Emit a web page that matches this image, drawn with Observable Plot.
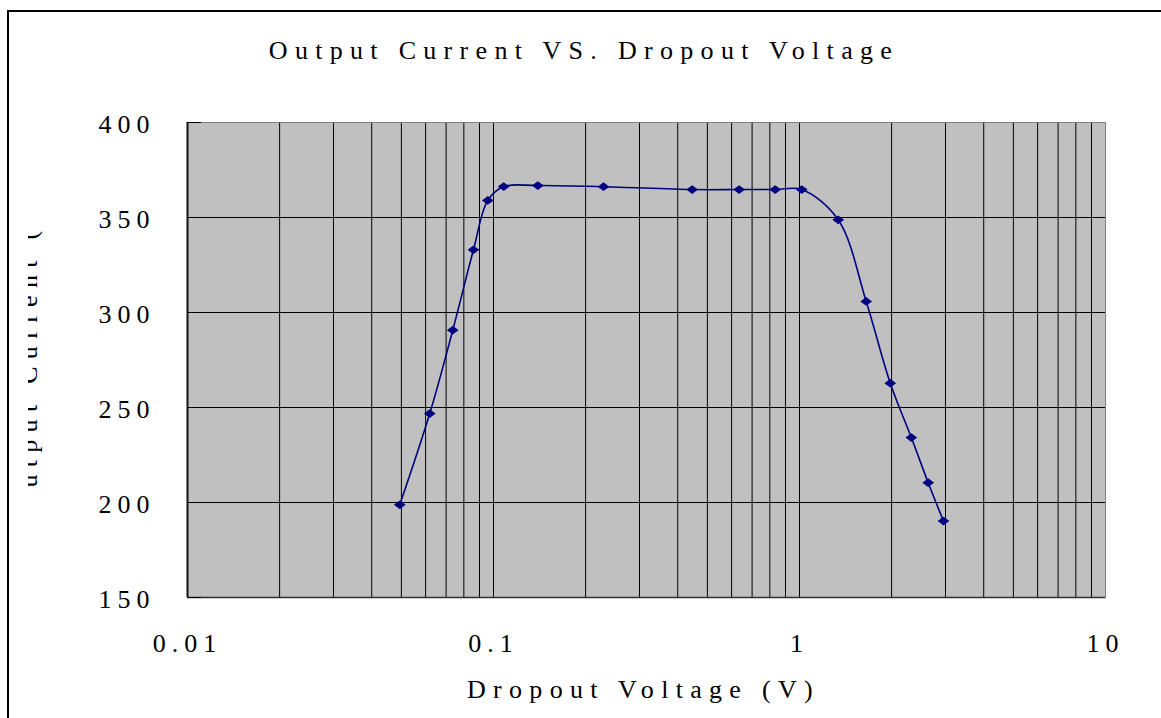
<!DOCTYPE html>
<html><head><meta charset="utf-8">
<script src="https://cdn.jsdelivr.net/npm/d3@7"></script>
<script src="https://cdn.jsdelivr.net/npm/@observablehq/plot@0.6"></script>
<style>
html,body{margin:0;padding:0;background:#fff;}
#page{position:relative;width:1161px;height:718px;overflow:hidden;font-family:"Liberation Serif",serif;color:#000;}
#frame{position:absolute;left:7px;top:10px;width:1300px;height:900px;border-left:2px solid #000;border-top:2px solid #000;}
#title{position:absolute;left:0;top:38px;width:1161px;text-align:center;font-size:26px;line-height:26px;letter-spacing:7.3px;padding-left:7px;box-sizing:border-box;white-space:nowrap;}
#chart{position:absolute;left:28px;top:80px;}
#chart svg{overflow:hidden;}
#chart g[aria-label="text"] text{letter-spacing:7.3px;}
#chart g[aria-label$="tick label"] text{letter-spacing:6px;}
</style></head>
<body><div id="page"><div id="frame"></div><div id="title">Output Current VS. Dropout Voltage</div><div id="chart"></div></div>
<script>
const voltage = [0.0494, 0.0619, 0.0736, 0.086, 0.0958, 0.108, 0.1396, 0.2288, 0.446, 0.635, 0.833, 1.017, 1.338, 1.652, 1.98, 2.32, 2.634, 2.955];
const current = [198.8, 246.8, 290.7, 333, 359, 366.3, 366.8, 366.2, 364.7, 364.7, 364.7, 364.7, 348.8, 305.8, 262.8, 234.2, 210.4, 190.2];
const xTickValues = [0.01, 0.1, 1, 10];
const xTickLabels = ["0.01", "0.1", "1", "10"];
const yTickValues = [150, 200, 250, 300, 350, 400];
const yTickLabels = ["150", "200", "250", "300", "350", "400"];
const xGridValues = [0.02,0.03,0.04,0.05,0.06,0.07,0.08,0.09,0.1,0.2,0.3,0.4,0.5,0.6,0.7,0.8,0.9,1,2,3,4,5,6,7,8,9];
const yGridValues = [200, 250, 300, 350];
const xLabel = "Dropout Voltage (V)";
const yLabel = "utput Current (";

const data = voltage.map((v, i) => ({v, c: current[i]}));

const diamond = {
  draw(ctx, size) {
    const r = Math.sqrt(size / Math.PI);
    const w = r * 1.05, h = r * 0.78;
    ctx.moveTo(0, -h); ctx.lineTo(w, 0); ctx.lineTo(0, h); ctx.lineTo(-w, 0); ctx.closePath();
  }
};

const chart = Plot.plot({
  width: 1133, height: 638,
  marginLeft: 159, marginRight: 56, marginTop: 42, marginBottom: 121,
  style: {fontFamily: '"Liberation Serif", serif', background: "transparent", overflow: "hidden"},
  x: {type: "log", domain: [0.01, 10]},
  y: {domain: [150, 400]},
  marks: [
    Plot.frame({fill: "#c0c0c0", stroke: null}),
    Plot.gridX(xGridValues, {stroke: "#000", strokeOpacity: 1}),
    Plot.gridY(yGridValues, {stroke: "#000", strokeOpacity: 1}),
    Plot.frame({stroke: "#808080"}),
    Plot.ruleX([0.01], {stroke: "#111", strokeWidth: 2}),
    Plot.ruleY([150], {stroke: "#303030", strokeWidth: 1.5}),
    Plot.axisY(yTickValues, {tickSize: -14, fill: "none", stroke: "#000", label: null}),
    Plot.axisY(yTickValues, {tickSize: 0, tickPadding: 32, dy: 2, fontSize: 26, fill: "#000", label: null,
      tickFormat: d => yTickLabels[yTickValues.indexOf(d)]}),
    Plot.axisX(xTickValues, {tickSize: 0, tickPadding: 36, fontSize: 26, fill: "#000", label: null,
      tickFormat: d => xTickLabels[xTickValues.indexOf(d)]}),
    Plot.text([xLabel], {frameAnchor: "bottom", textAnchor: "middle", lineAnchor: "middle", dy: 92, dx: -3, fontSize: 26, fill: "#000"}),
    Plot.text([yLabel], {frameAnchor: "left", textAnchor: "middle", lineAnchor: "middle", rotate: -90, dx: -159, dy: -4.5, fontSize: 26, fill: "#000"}),
    Plot.line(data, {x: "v", y: "c", curve: "catmull-rom", stroke: "#000080", strokeWidth: 1.6}),
    Plot.dot(data, {x: "v", y: "c", symbol: diamond, r: 5.6, fill: "#000080", stroke: null})
  ]
});
document.getElementById("chart").appendChild(chart);
</script>
</body></html>
